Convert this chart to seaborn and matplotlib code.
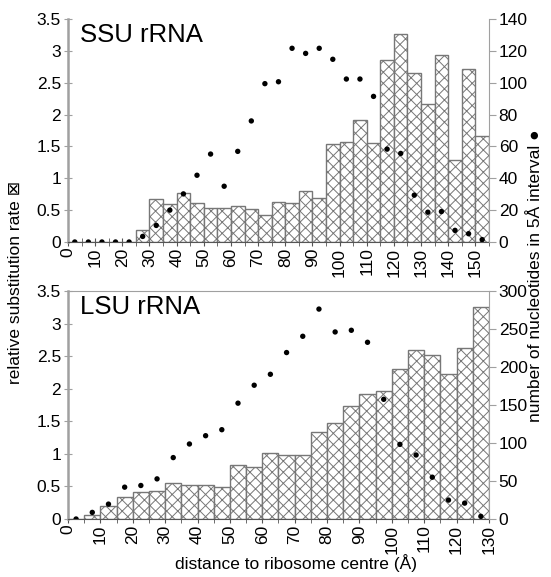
import numpy as np
import pandas as pd
import matplotlib
matplotlib.use("Agg")
import matplotlib.pyplot as plt
import seaborn as sns
from matplotlib.ticker import MultipleLocator, FuncFormatter

# SSU rRNA: 5 A bins from 0 to 155
ssu_edges = list(range(0, 160, 5))
ssu_rate = [0, 0, 0, 0, 0, 0.19, 0.68, 0.60, 0.77, 0.61, 0.53, 0.53, 0.56, 0.51,
            0.42, 0.62, 0.61, 0.80, 0.69, 1.54, 1.57, 1.92, 1.56, 2.86, 3.27,
            2.66, 2.16, 2.93, 1.28, 2.71, 1.67]
ssu_count = [0, 0, 0, 0, 0, 3.5, 10.4, 20, 30.2, 41.9, 55.2, 35, 56.9, 76, 99.4,
             100.6, 121.6, 118.4, 121.6, 114.7, 102.3, 102.3, 91.4, 58.3, 55.6,
             29.4, 18.7, 19.1, 7.3, 5.2, 1.5]

# LSU rRNA: 5 A bins from 0 to 130
lsu_edges = list(range(0, 135, 5))
lsu_rate = [0, 0.06, 0.20, 0.34, 0.41, 0.43, 0.56, 0.515, 0.515, 0.49, 0.83, 0.80,
            1.01, 0.99, 0.99, 1.34, 1.48, 1.73, 1.92, 1.97, 2.30, 2.59, 2.52, 2.23,
            2.62, 3.25]
lsu_count = [0, 8.7, 19.6, 41.9, 44.1, 52.8, 80.8, 98.7, 109.6, 117.5, 152.4, 176,
             190.4, 219, 240.4, 276.2, 246.1, 248.3, 232.5, 157.5, 98.2, 84.2, 55,
             24.9, 20.9, 3.5]

sns.set_style("white")
plt.rcParams['font.family'] = ['Liberation Sans', 'DejaVu Sans']
plt.rcParams['hatch.linewidth'] = 0.7
plt.rcParams['text.color'] = 'black'
plt.rcParams['xtick.labelcolor'] = 'black'
plt.rcParams['ytick.labelcolor'] = 'black'

GREY = '#a0a0a0'

fig = plt.figure(figsize=(5.51, 5.77), dpi=100)
ax_top = fig.add_axes([0.1234, 0.5806, 0.764, 0.3865])
ax_bot = fig.add_axes([0.1234, 0.1005, 0.764, 0.3952])


def draw_panel(ax, edges, rate, count, cmax, cstep, title, top_spine):
    centers = np.array(edges[:-1]) + 2.5
    df = pd.DataFrame({'dist': centers, 'rate': rate, 'count': count})
    sns.histplot(data=df, x='dist', weights='rate', bins=edges, ax=ax,
                 color='white', edgecolor='#777777', linewidth=1.0, alpha=1)
    for p in ax.patches:
        p.set_hatch('xxx')
    ax.set_xlim(edges[0], edges[-1])
    ax.set_ylim(0, 3.5)
    ax.set_ylabel('')
    ax.set_xlabel('')
    ax.yaxis.set_major_locator(MultipleLocator(0.5))
    ax.yaxis.set_major_formatter(FuncFormatter(lambda v, _: f'{v:g}'))
    ax.xaxis.set_major_locator(MultipleLocator(10))
    ax.xaxis.set_minor_locator(MultipleLocator(5))
    ax.tick_params(axis='x', which='both', direction='inout', length=6,
                   color='#555555', labelsize=12.5, labelrotation=90, pad=1)
    ax.tick_params(axis='y', direction='inout', length=6, color=GREY,
                   labelsize=12.5, pad=2)
    ax.tick_params(which='both', bottom=True, left=True)
    for s in ['top', 'right']:
        ax.spines[s].set_visible(False)
    ax.spines['left'].set_color(GREY)
    ax.spines['left'].set_linewidth(1.8)
    ax.spines['bottom'].set_color('#555555')
    if top_spine:
        ax.spines['top'].set_visible(True)
        ax.spines['top'].set_color(GREY)

    ax2 = ax.twinx()
    sns.scatterplot(data=df, x='dist', y='count', ax=ax2, color='black', s=15,
                    edgecolor='none', zorder=5)
    ax2.set_ylim(0, cmax)
    ax2.set_xlim(edges[0], edges[-1])
    ax2.yaxis.set_major_locator(MultipleLocator(cstep))
    ax2.tick_params(axis='y', direction='out', length=5, color=GREY,
                    labelsize=12.5, pad=2)
    ax2.tick_params(right=True)
    for s in ['top', 'left', 'bottom']:
        ax2.spines[s].set_visible(False)
    ax2.spines['right'].set_color(GREY)
    ax2.set_ylabel('')
    ax2.set_xlabel('')
    ax.text(0.028, 0.93, title, transform=ax.transAxes, fontsize=18.5,
            va='center', ha='left')


draw_panel(ax_top, ssu_edges, ssu_rate, ssu_count, 140, 20, 'SSU rRNA', False)
draw_panel(ax_bot, lsu_edges, lsu_rate, lsu_count, 300, 50, 'LSU rRNA', True)

fig.text(0.027, 0.51, 'relative substitution rate \u22a0', rotation=90,
         ha='center', va='center', fontsize=12.5)
fig.text(0.971, 0.523, 'number of nucleotides in 5\u00c5 interval \u25cf', rotation=90,
         ha='center', va='center', fontsize=12.5)
fig.text(0.537, 0.024, 'distance to ribosome centre (\u00c5)', ha='center',
         va='center', fontsize=12.5)

fig.savefig('out.png', dpi=100)
